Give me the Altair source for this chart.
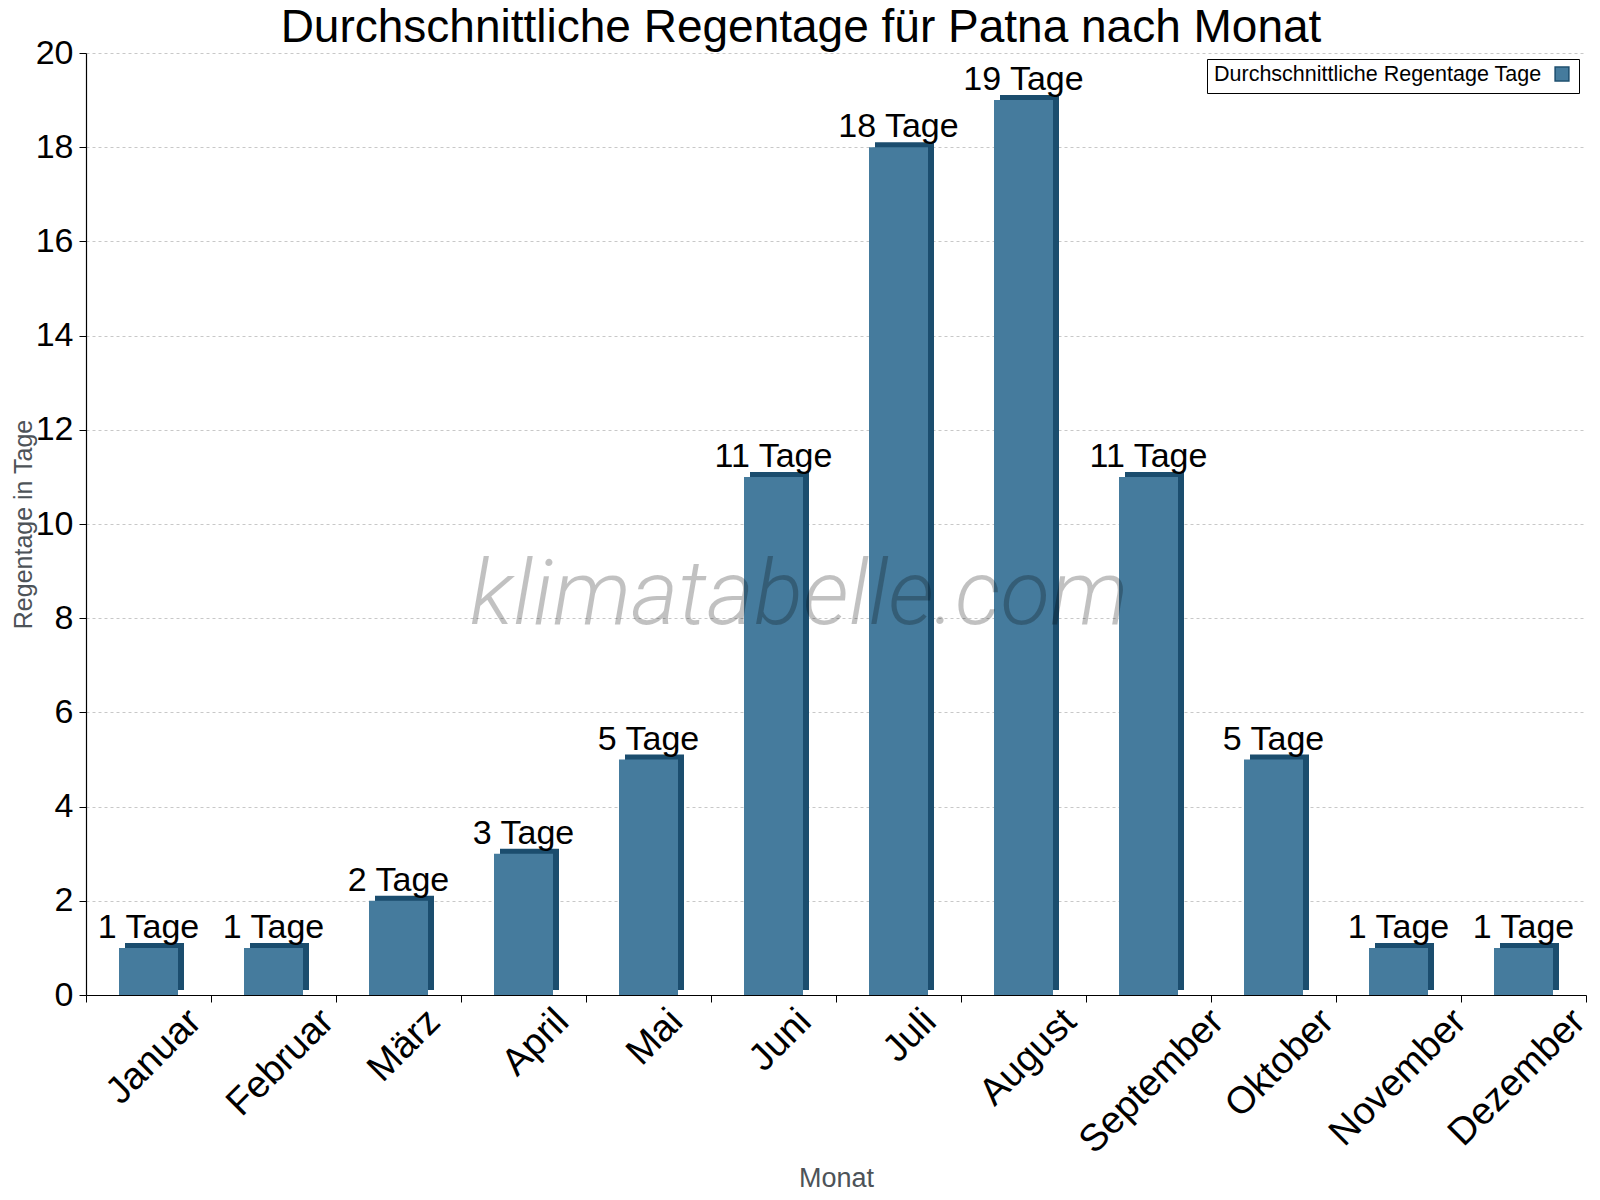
import altair as alt
import pandas as pd

# ---- data ----
months = ["Januar", "Februar", "März", "April", "Mai", "Juni",
          "Juli", "August", "September", "Oktober", "November", "Dezember"]
rain_days = [1, 1, 2, 3, 5, 11, 18, 19, 11, 5, 1, 1]
bar_labels = [f"{v} Tage" for v in rain_days]
series_name = "Durchschnittliche Regentage Tage"
y_ticks = [0, 2, 4, 6, 8, 10, 12, 14, 16, 18, 20]

FRONT = "#457b9d"
SIDE = "#1b4d6e"
FONT = "Liberation Sans"

df = pd.DataFrame({
    "Monat": months,
    "Tage": rain_days,
    "Label": bar_labels,
    "Serie": [series_name] * len(months),
})

# rotated labels are centred under their band, like the reference
label_shift = ("7.5*length(datum.label) - 12"
               " + (indexof(datum.label, 'M') == 0 ? 4 : 0)"
               " - (datum.label == 'Dezember' ? 6 : 0)")

x_enc = alt.X(
    "Monat:N",
    sort=months,
    scale=alt.Scale(paddingInner=0, paddingOuter=0),
    axis=alt.Axis(
        title="Monat",
        titleFont=FONT, titleFontSize=27, titleFontWeight="normal", titleColor="#4d5358",
        titleBaseline="alphabetic", titleY=191,
        labelFont=FONT, labelFontSize=38, labelColor="black",
        labelAngle=-45, labelAlign="right", labelBaseline="top", labelPadding=0,
        labelOffset={"expr": label_shift},
        labelOverlap=False, labelBound=False, labelLimit=0,
        tickBand="extent", tickSize=7, tickColor="black",
        domainColor="black", domainWidth=1.2, grid=False,
    ),
)
y_enc = alt.Y(
    "Tage:Q",
    scale=alt.Scale(domain=[0, 20], nice=False),
    axis=alt.Axis(
        values=y_ticks,
        title="Regentage in Tage",
        titleFont=FONT, titleFontSize=25, titleFontWeight="normal", titleColor="#4d5358",
        titlePadding={"expr": "-1"},
        labelFont=FONT, labelFontSize=34, labelColor="black", labelPadding=6,
        tickSize=7, tickColor="black",
        domainColor="black", domainWidth=1.2,
        grid=True, gridColor="#c8c8c8", gridDash=[3, 3], gridWidth=1,
    ),
)

base = alt.Chart(df).encode(x=x_enc, y=y_enc)

side = base.mark_bar(width=59, xOffset=6, yOffset=-5, color=SIDE)

front = base.mark_bar(width=59).encode(
    color=alt.Color(
        "Serie:N",
        scale=alt.Scale(range=[FRONT]),
        legend=alt.Legend(
            title=series_name, titleOrient="left",
            titleFont=FONT, titleFontSize=21.5, titleFontWeight="normal",
            titleColor="black", titlePadding=12, titleAnchor="middle",
            titleBaseline="middle", titleLimit=0,
            orient="none", legendX=1121, legendY=6,
            labelExpr="''", labelOffset=0,
            symbolType="square", symbolSize=190,
            symbolStrokeColor=SIDE, symbolStrokeWidth=1.5,
            strokeColor="black", padding=7, fillColor="white",
        ),
    )
)

texts = base.mark_text(
    font=FONT, fontSize=34, color="black", baseline="alphabetic", dy=-10
).encode(text="Label:N")

wm_df = pd.DataFrame({"wm": ["klimatabelle.com"]})
watermark = alt.Chart(wm_df).mark_text(
    font="Roboto", fontSize=91, fontStyle="italic", fontWeight=300,
    color="black", opacity=0.24, align="center", baseline="alphabetic",
).encode(text="wm:N", x=alt.value(713), y=alt.value(571))

chart = alt.layer(side, front, texts, watermark).properties(
    width=1500,
    height=942,
    autosize=alt.AutoSizeParams(type="none"),
    padding={"left": 78, "top": 45, "right": 6, "bottom": 197},
    title=alt.TitleParams(
        "Durchschnittliche Regentage für Patna nach Monat",
        font=FONT, fontSize=46, fontWeight="normal", color="black",
        anchor="middle", dx=-35, dy=20, offset=4,
    ),
).configure_view(stroke=None)

chart.save("out.html", embed_options={"renderer": "svg", "actions": False})
